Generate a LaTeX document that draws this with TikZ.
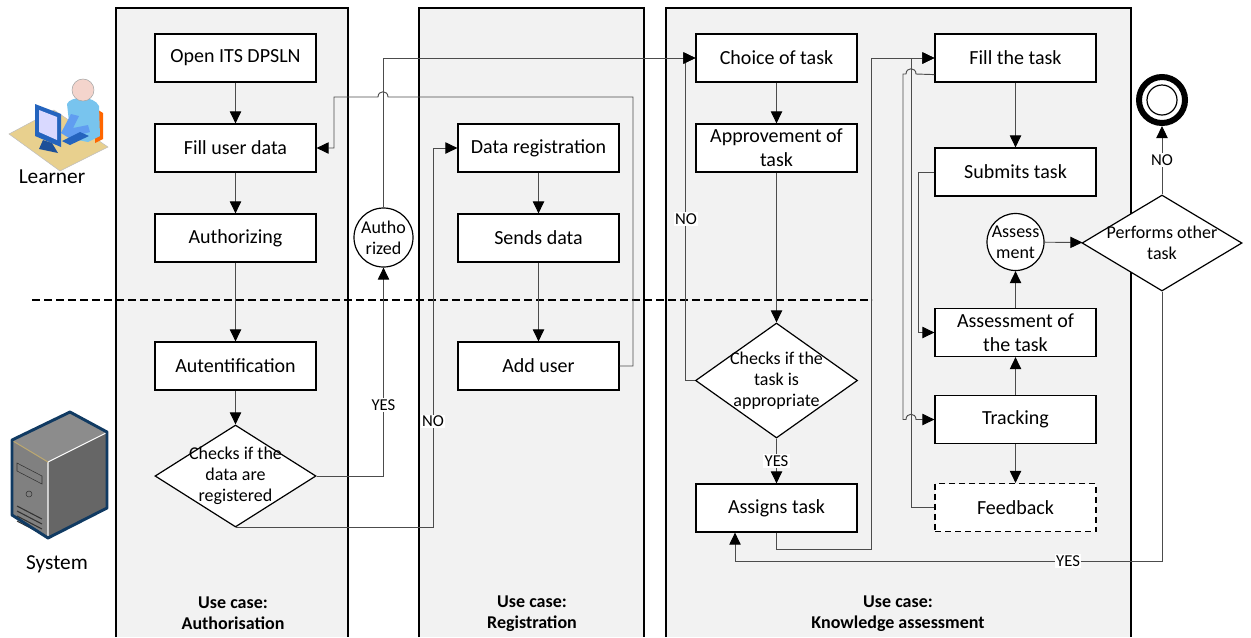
\documentclass[tikz,border=0pt]{standalone}
\usepackage{fontspec}
\setmainfont{Carlito}
\usetikzlibrary{arrows.meta,shapes.geometric}
\definecolor{lanegray}{RGB}{242,242,242}
\definecolor{desk}{RGB}{232,208,142}
\definecolor{personblue}{RGB}{120,196,238}
\definecolor{monblue}{RGB}{36,100,190}
\definecolor{skin}{RGB}{244,212,204}
\definecolor{srvedge}{RGB}{16,58,98}

\begin{document}
\begin{tikzpicture}[x=0.75pt,y=0.75pt,yscale=-1,xscale=1,
  font=\fontsize{15}{18}\selectfont,
  box/.style={draw,fill=white,line width=0.9pt,minimum width=120.75pt,minimum height=36pt,align=center,inner sep=1pt},
  decision/.style={diamond,draw,fill=white,line width=0.9pt,inner sep=0pt},
  conn/.style={circle,draw,fill=white,line width=0.9pt,inner sep=0pt},
  small/.style={align=center,inner sep=0pt,font=\fontsize{13.5}{15.75}\selectfont},
  flow/.style={draw=black!70,line width=0.7pt,-{Triangle[length=9pt,width=8.5pt,color=black]}},
  lbl/.style={fill=white,inner sep=1pt,text=black,font=\fontsize{12.5}{14}\selectfont},
  usecase/.style={align=center,font=\bfseries\fontsize{13.5}{15.75}\selectfont},
  actor/.style={font=\fontsize{16}{18}\selectfont}
]
\useasboundingbox (0,0) rectangle (1251,637);

%Shape: Lanes
\fill[lanegray] (116,8) rectangle (348,637);
\fill[lanegray] (419,8) rectangle (644,637);
\fill[lanegray] (666,8) rectangle (1131,637);
\draw[line width=1.1pt] (116,637) -- (116,8) -- (348,8) -- (348,637);
\draw[line width=1.1pt] (419,637) -- (419,8) -- (644,8) -- (644,637);
\draw[line width=1.1pt] (666,637) -- (666,8) -- (1131,8) -- (1131,637);

%Straight Lines: learner / system border
\draw[line width=2.2pt,dash pattern=on 6pt off 3pt] (32,300) -- (872,300);

%Shape: Learner
\draw[fill=desk,draw=black!25] (9,134) -- (54,110) -- (108,147) -- (60,171) -- cycle;
\fill[orange!80!red] (95,108) -- (103,113) -- (103,139) -- (95,143) -- cycle;
\fill[personblue] (67,104) .. controls (70,96) and (94,95) .. (99,106) -- (100,136) -- (88,142) -- (73,139) -- (69,122) -- cycle;
\fill[personblue!80!blue] (71,114) -- (61,133) -- (69,138) -- (90,132) -- (88,125) -- (73,128) -- (79,116) -- cycle;
\draw[fill=skin,draw=black!35] (83,90) circle[radius=11];
\fill[monblue] (62,141) -- (80,132) -- (89,136) -- (70,145) -- cycle;
\fill[monblue] (35,104) -- (61,114) -- (61,147) -- (35,136) -- cycle;
\fill[blue!15!white] (39,110) -- (57,117) -- (57,140) -- (39,132) -- cycle;
\fill[monblue!80!black] (43,140) -- (52,143) -- (58,153) -- (39,149) -- cycle;
% Text Node
\node[actor] (learner) at (52,177) {Learner};

%Shape: System
\fill[black!60] (12,440) -- (70,412) -- (107,432) -- (107,508) -- (48,538) -- (12,515) -- cycle;
\fill[black!50] (12,440) -- (48,462) -- (48,538) -- (12,515) -- cycle;
\fill[black!45] (12,440) -- (70,412) -- (107,432) -- (48,462) -- cycle;
\draw[white,line width=0.8pt] (48,537) -- (48,462) -- (106,433);
\draw[desk!80!black,line width=0.8pt] (13,441) -- (48,462);
\draw[black!80] (17,463) -- (42,476) -- (42,484) -- (17,471) -- cycle;
\draw[black!80] (29,494) circle[radius=3];
\draw[black!80,line width=0.8pt] (17,506) -- (42,519) (17,511) -- (42,524) (17,516) -- (42,529) (17,521) -- (42,534);
\draw[srvedge,line width=2.2pt,line join=round] (12,440) -- (70,412) -- (107,432) -- (107,508) -- (48,538) -- (12,515) -- cycle;
% Text Node
\node[actor] (system) at (57,564) {System};

%Shape: Authorisation lane
\node[box] (openits) at (235.5,58) {Open ITS DPSLN};
\node[box] (filldata) at (235.5,148) {Fill user data};
\node[box] (authorizing) at (235.5,238) {Authorizing};
\node[box] (autent) at (235.5,366) {Autentification};
\node[decision,minimum width=120.75pt,minimum height=76.5pt] (chkdata) at (235.5,476) {};
\node[small] (chkdatatxt) at (chkdata) {Checks if the\\data are\\registered};
\node[conn,minimum size=44.25pt] (authd) at (383.5,237.5) {};
\node[small] (authdtxt) at (authd) {Autho\\rized};

%Shape: Registration lane
\node[box] (datareg) at (538.5,148) {Data registration};
\node[box] (sendsdata) at (538.5,238) {Sends data};
\node[box] (adduser) at (538.5,366) {Add user};

%Shape: Knowledge assessment lane
\node[box] (choice) at (776.5,58) {Choice of task};
\node[box] (approve) at (776.5,148) {Approvement of\\task};
\node[decision,minimum width=121.5pt,minimum height=86.25pt] (chktask) at (776.5,380.5) {};
\node[small] (chktasktxt) at (chktask) {Checks if the\\task is\\appropriate};
\node[box] (assign) at (776.5,508) {Assigns task};
\node[box] (filltask) at (1015.5,58) {Fill the task};
\node[box] (submit) at (1015.5,172) {Submits task};
\node[conn,minimum size=42.75pt] (assessc) at (1015.5,242) {};
\node[small] (assessctxt) at (assessc) {Assess\\ment};
\node[box] (assesstask) at (1015.5,332.5) {Assessment of\\the task};
\node[box] (tracking) at (1015.5,419.5) {Tracking};
\node[box,dash pattern=on 4.5pt off 3pt] (feedback) at (1015.5,507.5) {Feedback};
\node[decision,minimum width=120pt,minimum height=72pt] (perf) at (1162,243) {};
\node[small] (perftxt) at (perf) {Performs other\\task};
\node[circle,draw,line width=4.5pt,minimum size=34.5pt,inner sep=0pt] (endc) at (1162,100) {};
\draw[line width=0.9pt] (endc.center) circle[radius=15];

% Text Node
\node[usecase] (ucauth) at (233,613.5) {Use case:\\Authorisation};
\node[usecase] (ucreg) at (532,613.5) {Use case:\\Registration};
\node[usecase] (ucknow) at (898,613.5) {Use case:\\Knowledge assessment};

%Straight Lines
\draw[flow] (openits) -- (filldata);
\draw[flow] (filldata) -- (authorizing);
\draw[flow] (authorizing) -- (autent);
\draw[flow] (autent) -- (chkdata);
\draw[flow] (chkdata.east) -| node[lbl,pos=0.67]{YES} (authd.south);
\draw[flow] (authd.north) |- (choice.west);
\draw[flow] (chkdata.south) -| node[lbl,pos=0.64]{NO} (433,148) -- (datareg.west);
\draw[flow] (datareg) -- (sendsdata);
\draw[flow] (sendsdata) -- (adduser);
\draw[flow] (adduser.east) -| (633,97) -- (388,97) .. controls (388,90) and (378,90) .. (378,97) -- (334,97) |- (filldata.east);

\draw[flow] (choice) -- (approve);
\draw[flow] (approve) -- (chktask);
\draw[flow] (chktask.west) -- ++(-9,0) |- node[lbl,pos=0.25]{NO} (choice.west);
\draw[flow] (chktask) -- node[lbl]{YES} (assign);
\draw[flow] (assign.south) -- ++(0,17) -| (871,58) -- (filltask.west);

\draw[flow] (filltask) -- (submit);
\draw[flow] (submit.west) -- (918,172) |- (assesstask.west);
\draw[flow] (filltask.south west) ++(0,-8) -- (916,74) .. controls (916,67) and (906,67) .. (906,74) -- (903,74) -- (903,419.5) -- (906,419.5) .. controls (906,412.5) and (916,412.5) .. (916,419.5) -- (tracking.west);
\draw[flow] (feedback.west) -| (911,58) -- (filltask.west);
\draw[flow] (tracking) -- (assesstask);
\draw[flow] (tracking) -- (feedback);
\draw[flow] (assesstask) -- (assessc);
\draw[flow] (assessc) -- (perf);
\draw[flow] (perf) -- node[lbl]{NO} (endc);
\coordinate (yesturn) at (735,561);
\draw[flow] (perf.south) |- node[lbl,pos=0.61]{YES} (yesturn) -- (yesturn |- assign.south);

\end{tikzpicture}
\end{document}
